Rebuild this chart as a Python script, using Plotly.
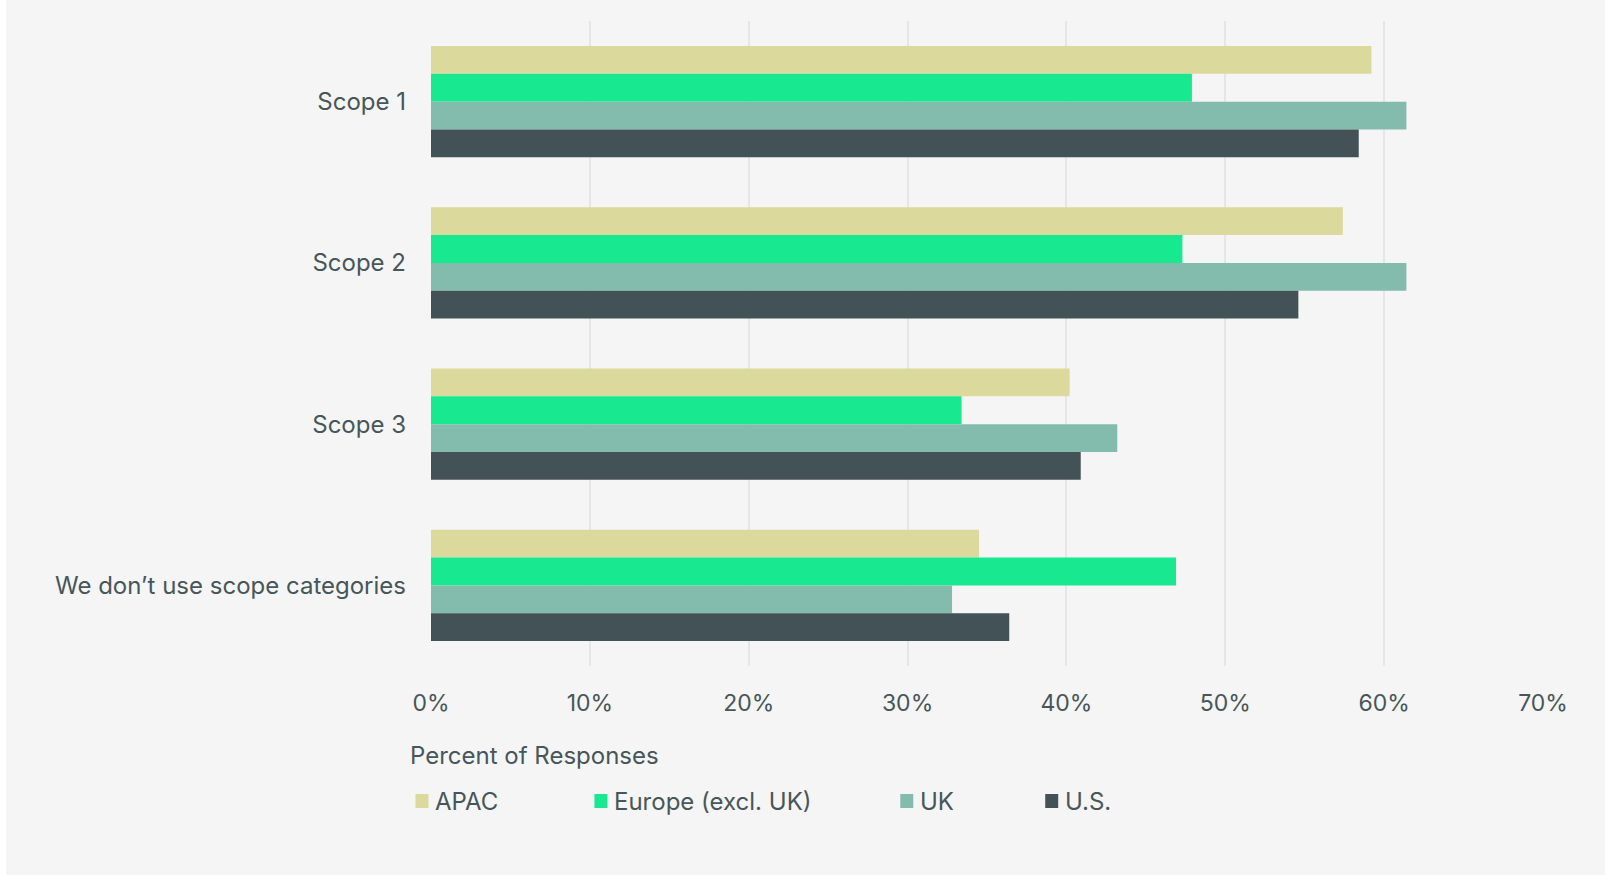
import plotly.graph_objects as go

categories = ["Scope 1", "Scope 2", "Scope 3", "We don’t use scope categories"]
series_names = ["APAC", "Europe (excl. UK)", "UK", "U.S."]
apac = [59.2, 57.4, 40.2, 34.5]
europe = [47.9, 47.3, 33.4, 46.9]
uk = [61.4, 61.4, 43.2, 32.8]
us = [58.4, 54.6, 40.9, 36.4]
colors = ["#dcd99c", "#18e88f", "#83bbac", "#435256"]
tick_vals = [0, 10, 20, 30, 40, 50, 60, 70]
tick_text = ["0%", "10%", "20%", "30%", "40%", "50%", "60%", "70%"]

OX = 6  # page offset of the figure
W, H = 1599, 875
L, R = 430.5 - OX, 1543.0 - OX
T, B = 21.0, 666.0
FONT = "Inter"
TXT = "#475659"

fig = go.Figure()
for name, vals, col in zip(series_names, [apac, europe, uk, us], colors):
    fig.add_trace(go.Bar(
        y=categories, x=vals, name=name, orientation="h",
        marker=dict(color=col, line=dict(width=0)),
        showlegend=False,
    ))

fig.update_layout(
    width=W, height=H,
    margin=dict(l=L, r=W - R, t=T, b=H - B, pad=0),
    paper_bgcolor="#f5f5f5", plot_bgcolor="#f5f5f5",
    barmode="group", bargap=0.31, bargroupgap=0,
    font=dict(family=FONT, size=24, color=TXT),
    xaxis=dict(range=[0, 70], tickvals=tick_vals, ticktext=tick_text,
               showgrid=True, gridcolor="#e3e7e7", gridwidth=2,
               zeroline=False, showline=False, ticks="",
               ticklabelstandoff=21, tickfont=dict(size=23, color=TXT)),
    yaxis=dict(autorange="reversed", showgrid=False, zeroline=False,
               showline=False, ticks="", ticklabelstandoff=24,
               tickfont=dict(size=24, color=TXT)),
)

def px2x(px):
    return (px - OX - L) / (R - L)

def py2y(py):
    return (B - py) / (B - T)

fig.add_annotation(x=px2x(407), y=py2y(755), xref="paper", yref="paper",
                   text="Percent of Responses", showarrow=False,
                   xanchor="left", yanchor="middle",
                   font=dict(size=24, color=TXT, family=FONT))

sq_left = [415, 594, 900, 1045]
for name, col, sx in zip(series_names, colors, sq_left):
    fig.add_shape(type="rect", xref="paper", yref="paper",
                  x0=px2x(sx), x1=px2x(sx + 13), y0=py2y(808), y1=py2y(794),
                  fillcolor=col, line=dict(width=0))
    fig.add_annotation(x=px2x(sx + 18), y=py2y(801), xref="paper", yref="paper",
                       text=name, showarrow=False, xanchor="left", yanchor="middle",
                       font=dict(size=24, color=TXT, family=FONT))

fig.write_html("out.html",
               post_script="document.body.style.margin='0px 0px 0px %dpx';" % OX)
